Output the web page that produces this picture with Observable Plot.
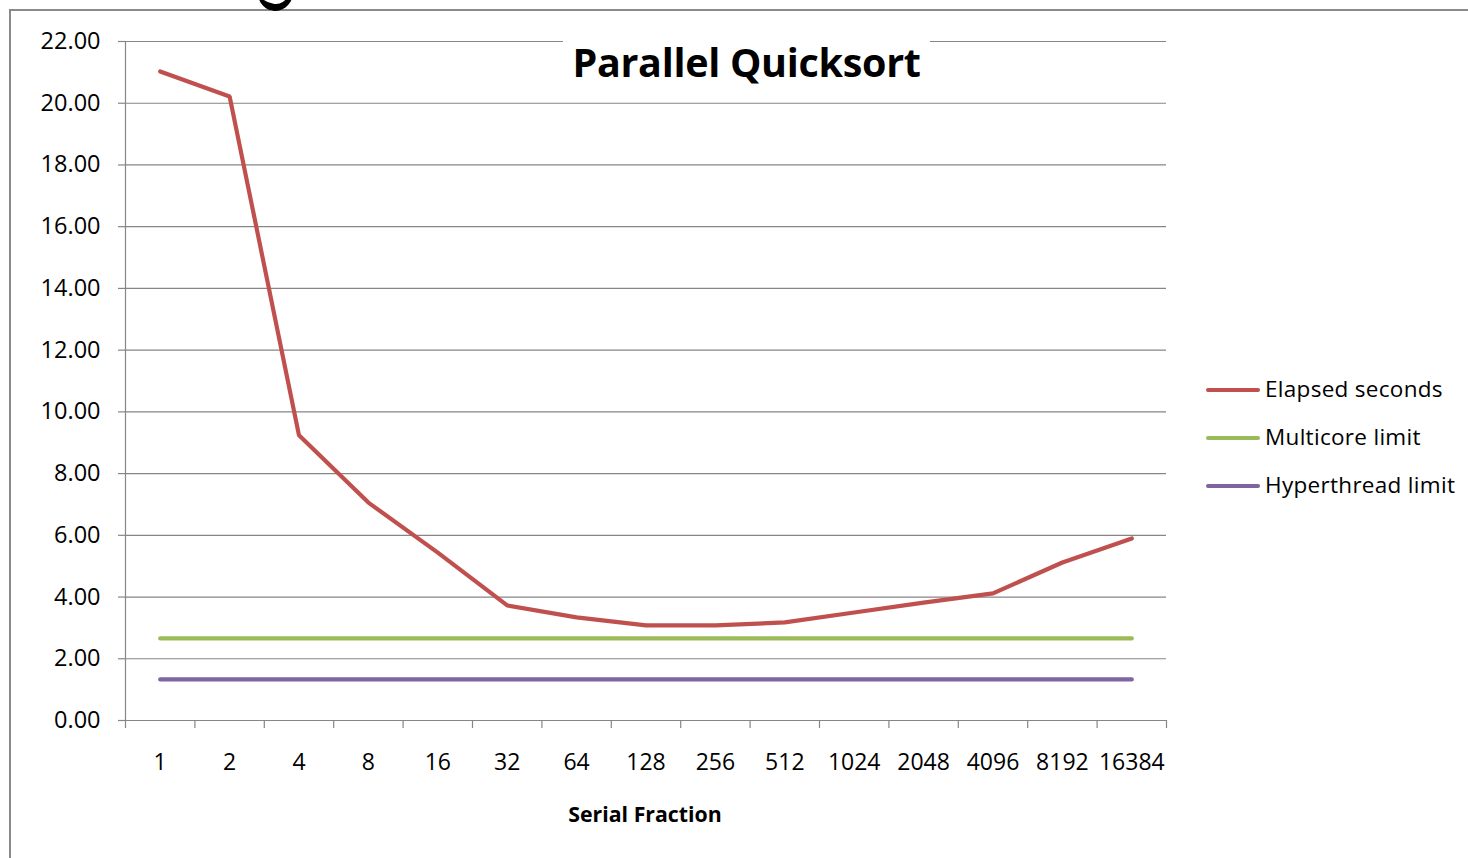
<!DOCTYPE html>
<html><head><meta charset="utf-8">
<script src="https://cdn.jsdelivr.net/npm/d3@7"></script>
<script src="https://cdn.jsdelivr.net/npm/@observablehq/plot@0.6"></script>
<style>
html,body{margin:0;padding:0;background:#fff;}
body{width:1468px;height:858px;overflow:hidden;position:relative;font-family:"Open Sans",sans-serif;color:#000;}
#frame{position:absolute;left:9px;top:9px;width:1600px;height:1000px;border-left:2px solid #8a8a8a;border-top:2px solid #8a8a8a;}
#blob{position:absolute;left:258px;top:-26px;width:30px;height:30px;border-radius:50%;border-bottom:7px solid #000;border-right:5px solid #000;border-left:0;border-top:0;transform:rotate(10deg);}
#chart{position:absolute;left:0;top:0;}
#title{position:absolute;left:563px;top:34px;width:367px;height:56px;background:#fff;text-align:center;font-weight:700;font-size:39.5px;line-height:56px;letter-spacing:-0.3px;}
#xtitle{position:absolute;left:445px;width:400px;top:799px;text-align:center;font-weight:700;font-size:21.3px;line-height:30px;}
#legend{position:absolute;left:1206px;top:372px;}
.item{position:relative;height:48px;}
.sw{position:absolute;left:0;top:16px;width:54px;height:4px;border-radius:2px;}
.lab{position:absolute;left:59px;top:0;font-size:22.5px;line-height:34px;white-space:nowrap;letter-spacing:0.3px;}
</style></head>
<body>
<div id="frame"></div>
<div id="blob"></div>
<div id="chart"></div>
<div id="title">Parallel Quicksort</div>
<div id="xtitle">Serial Fraction</div>
<div id="legend"></div>
<script>
const categories = ["1","2","4","8","16","32","64","128","256","512","1024","2048","4096","8192","16384"];
const elapsedSeconds = [21.03,20.22,9.24,7.06,5.44,3.73,3.34,3.08,3.08,3.18,3.50,3.82,4.12,5.12,5.90];
const multicoreLimit = [2.66,2.66,2.66,2.66,2.66,2.66,2.66,2.66,2.66,2.66,2.66,2.66,2.66,2.66,2.66];
const hyperthreadLimit = [1.33,1.33,1.33,1.33,1.33,1.33,1.33,1.33,1.33,1.33,1.33,1.33,1.33,1.33,1.33];
const seriesNames = ["Elapsed seconds","Multicore limit","Hyperthread limit"];
const seriesColors = ["#C0504D","#9BBB59","#8064A2"];
const yTicks = [0,2,4,6,8,10,12,14,16,18,20,22];

const seriesValues = [elapsedSeconds, multicoreLimit, hyperthreadLimit];
const rows = [];
seriesNames.forEach((s, k) => seriesValues[k].forEach((v, i) => rows.push({series: s, i, value: v})));
const idx = categories.map((c, i) => i);
const bounds = categories.map((c, i) => i - 0.5).concat([categories.length - 0.5]);

const chart = Plot.plot({
  width: 1468, height: 858,
  marginLeft: 125, marginRight: 302, marginTop: 41, marginBottom: 138,
  style: {fontFamily: "'Open Sans', sans-serif", background: "transparent", overflow: "visible"},
  x: {type: "linear", domain: [-0.5, categories.length - 0.5], axis: null, label: null},
  y: {domain: [0, 22], axis: null, label: null},
  color: {domain: seriesNames, range: seriesColors},
  marks: [
    Plot.gridY(yTicks, {stroke: "#868686", strokeOpacity: 1, strokeWidth: 1.2}),
    Plot.axisY(yTicks, {tickSize: 7, tickPadding: 18, tickFormat: d => d.toFixed(2), fontSize: 23.5, stroke: "#868686", fill: "#000", strokeWidth: 1.2, label: null, style: {letterSpacing: "0.6px"}}),
    Plot.axisX(bounds, {tickSize: 8, tickFormat: () => "", stroke: "#868686", strokeWidth: 1.2, label: null}),
    Plot.axisX(idx, {tickSize: 0, tickPadding: 33, tickFormat: i => categories[i], fontSize: 23, fill: "#000", label: null}),
    Plot.ruleX([-0.5], {stroke: "#868686", strokeWidth: 1.2}),
    Plot.ruleY([0], {stroke: "#868686", strokeWidth: 1.2}),
    Plot.line(rows, {x: "i", y: "value", z: "series", stroke: "series", strokeWidth: 4.2, strokeLinecap: "round", strokeLinejoin: "miter"})
  ]
});
document.getElementById("chart").appendChild(chart);

const legend = document.getElementById("legend");
seriesNames.forEach((s, k) => {
  const it = document.createElement("div");
  it.className = "item";
  it.innerHTML = `<div class="sw" style="background:${seriesColors[k]}"></div><div class="lab">${s}</div>`;
  legend.appendChild(it);
});
</script>
</body></html>
